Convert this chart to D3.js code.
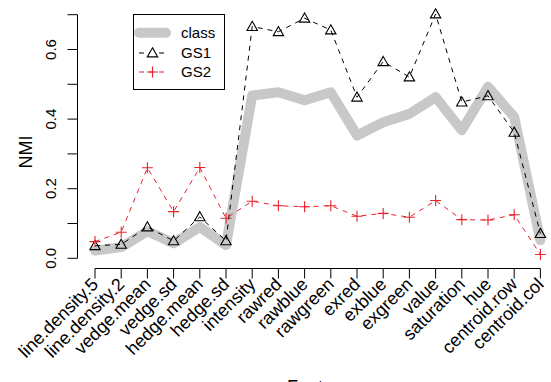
<!DOCTYPE html>
<html>
<head>
<meta charset="utf-8">
<script src="https://cdn.jsdelivr.net/npm/d3@7"></script>
<style>
  html, body { margin: 0; padding: 0; background: #fff; }
  svg { display: block; font-family: "Liberation Sans", Arial, Helvetica, sans-serif; }
</style>
</head>
<body>
<svg id="chart" width="551" height="382"></svg>
<script>
// Feature names along the x axis
const features = ["line.density.5", "line.density.2", "vedge.mean", "vedge.sd", "hedge.mean",
  "hedge.sd", "intensity", "rawred", "rawblue", "rawgreen", "exred", "exblue", "exgreen",
  "value", "saturation", "hue", "centroid.row", "centroid.col"];

// NMI per feature for each grouping
const classNMI = [0.022, 0.032, 0.078, 0.043, 0.090, 0.038, 0.468, 0.477, 0.454, 0.477,
  0.353, 0.391, 0.415, 0.463, 0.368, 0.493, 0.406, 0.052];
const gs1NMI = [0.036, 0.040, 0.090, 0.050, 0.119, 0.050, 0.666, 0.651, 0.690, 0.656,
  0.463, 0.565, 0.521, 0.702, 0.449, 0.467, 0.362, 0.071];
const gs2NMI = [0.048, 0.075, 0.260, 0.134, 0.261, 0.115, 0.164, 0.151, 0.148, 0.151,
  0.121, 0.129, 0.118, 0.166, 0.111, 0.110, 0.125, 0.011];

const yTicks = [0, 0.1, 0.2, 0.3, 0.4, 0.5, 0.6, 0.7];
const yTickLabels = ["0.0", "", "0.2", "", "0.4", "", "0.6", ""];

const legendNames = ["class", "GS1", "GS2"];

const svg = d3.select("#chart");
const FS = 15;      // tick numbers and legend
const FS_LAB = 18;  // feature names and axis titles

const x = d3.scalePoint().domain(features).range([95, 540.4]);
const y = d3.scaleLinear().domain([0, 0.7]).range([258.3, 14.7]);

const gray = "#c8c8c8";
const red = "#e8212b";

// y axis
const yAxis = svg.append("g").attr("transform", "translate(77.5,0)");
yAxis.append("line").attr("x1", 0).attr("x2", 0)
  .attr("y1", y(0)).attr("y2", y(0.7)).attr("stroke", "#000");
yAxis.selectAll("line.tick").data(yTicks).enter().append("line")
  .attr("class", "tick").attr("x1", -10).attr("x2", 0)
  .attr("y1", d => y(d)).attr("y2", d => y(d)).attr("stroke", "#000");
yAxis.selectAll("text").data(yTicks).enter().append("text")
  .attr("transform", d => `translate(-22,${y(d)}) rotate(-90)`)
  .attr("text-anchor", "middle").attr("font-size", FS)
  .text((d, i) => yTickLabels[i]);

// x axis
const xAxis = svg.append("g").attr("transform", "translate(0,268.5)");
xAxis.append("line").attr("x1", x(features[0])).attr("x2", x(features[features.length - 1]))
  .attr("y1", 0).attr("y2", 0).attr("stroke", "#000");
xAxis.selectAll("line.tick").data(features).enter().append("line")
  .attr("class", "tick").attr("x1", d => x(d)).attr("x2", d => x(d))
  .attr("y1", 0).attr("y2", 10).attr("stroke", "#000");
xAxis.selectAll("text").data(features).enter().append("text")
  .attr("transform", d => `translate(${x(d) + 0.5},${13}) rotate(-45)`)
  .attr("text-anchor", "end").attr("dy", "0.3em").attr("font-size", FS_LAB)
  .text(d => d);

// axis titles
svg.append("text").attr("transform", "translate(32,152) rotate(-90)")
  .attr("text-anchor", "middle").attr("font-size", FS_LAB).text("NMI");
svg.append("text").attr("x", 318).attr("y", 393)
  .attr("text-anchor", "middle").attr("font-size", FS_LAB).text("Feature");

const line = d3.line().x((d, i) => x(features[i])).y(d => y(d));

// class: thick gray line
svg.append("path").datum(classNMI).attr("d", line)
  .attr("fill", "none").attr("stroke", gray).attr("stroke-width", 10)
  .attr("stroke-linejoin", "round").attr("stroke-linecap", "round");

// open triangle marker
const tri = (cx, cy, r) =>
  `M${cx},${cy - r}L${cx + r},${cy + r * 0.75}L${cx - r},${cy + r * 0.75}Z`;

// GS1: dashed black with open triangles
svg.append("path").datum(gs1NMI).attr("d", line)
  .attr("fill", "none").attr("stroke", "#000").attr("stroke-width", 1)
  .attr("stroke-dasharray", "5,5");
svg.selectAll("path.gs1").data(gs1NMI).enter().append("path")
  .attr("class", "gs1")
  .attr("d", (d, i) => tri(x(features[i]), y(d), 5.2))
  .attr("fill", "none").attr("stroke", "#000").attr("stroke-width", 1.1);

// GS2: dashed red with plus signs
svg.append("path").datum(gs2NMI).attr("d", line)
  .attr("fill", "none").attr("stroke", red).attr("stroke-width", 1)
  .attr("stroke-dasharray", "5,5");
const plus = (cx, cy, r) => `M${cx - r},${cy}H${cx + r}M${cx},${cy - r}V${cy + r}`;
svg.selectAll("path.gs2").data(gs2NMI).enter().append("path")
  .attr("class", "gs2")
  .attr("d", (d, i) => plus(x(features[i]), y(d), 5.5))
  .attr("fill", "none").attr("stroke", red).attr("stroke-width", 1.1);

// legend
const lg = svg.append("g");
lg.append("rect").attr("x", 133.5).attr("y", 14.5).attr("width", 91).attr("height", 75)
  .attr("fill", "#fff").attr("stroke", "#000");
const rowY = [32.7, 53, 72];
const segX1 = 139, segX2 = 166, symX = 152.5;
lg.append("line").attr("x1", segX1).attr("x2", segX2).attr("y1", rowY[0]).attr("y2", rowY[0])
  .attr("stroke", gray).attr("stroke-width", 10).attr("stroke-linecap", "round");
lg.append("line").attr("x1", segX1).attr("x2", segX2).attr("y1", rowY[1]).attr("y2", rowY[1])
  .attr("stroke", "#000").attr("stroke-dasharray", "5,5");
lg.append("path").attr("d", tri(symX, rowY[1], 5.2)).attr("fill", "#fff")
  .attr("stroke", "#000").attr("stroke-width", 1.1);
lg.append("line").attr("x1", segX1).attr("x2", segX2).attr("y1", rowY[2]).attr("y2", rowY[2])
  .attr("stroke", red).attr("stroke-dasharray", "5,5");
lg.append("path").attr("d", plus(symX, rowY[2], 5.5)).attr("fill", "none")
  .attr("stroke", red).attr("stroke-width", 1.1);
lg.selectAll("text").data(legendNames).enter().append("text")
  .attr("x", 181).attr("y", (d, i) => rowY[i]).attr("dy", "0.35em")
  .attr("font-size", FS).text(d => d);
</script>
</body>
</html>
